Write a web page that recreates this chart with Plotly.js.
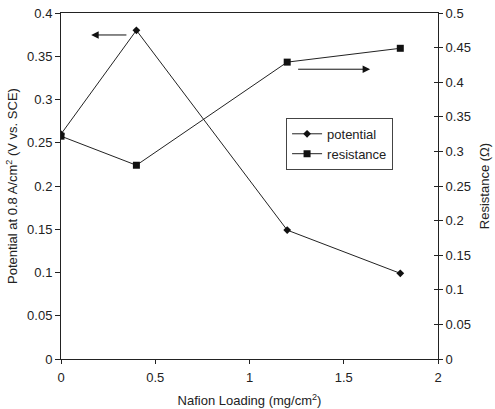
<!DOCTYPE html>
<html><head><meta charset="utf-8">
<script src="https://cdn.plot.ly/plotly-3.0.1.min.js"></script>
<style>body{margin:0;background:#fff}#c{width:495px;height:409px}</style>
</head><body><div id="c"></div>
<script>
const loading = [0, 0.4, 1.2, 1.8];
const potential = [0.26, 0.38, 0.149, 0.099];
const resistance = [0.322, 0.28, 0.429, 0.449];
const leftTicks = [0, 0.05, 0.1, 0.15, 0.2, 0.25, 0.3, 0.35, 0.4];
const rightTicks = [0, 0.05, 0.1, 0.15, 0.2, 0.25, 0.3, 0.35, 0.4, 0.45, 0.5];
const xTicks = [0, 0.5, 1, 1.5, 2];

const font = {family: 'Liberation Sans, Arial, sans-serif', size: 13, color: '#222'};
const data = [
  {x: loading, y: potential, name: 'potential', mode: 'lines+markers',
   line: {color: '#222', width: 1}, marker: {symbol: 'diamond', size: 6, color: '#111'}},
  {x: loading, y: resistance, name: 'resistance', mode: 'lines+markers', yaxis: 'y2',
   line: {color: '#222', width: 1}, marker: {symbol: 'square', size: 7, color: '#111'}},
  {x: [1], y: [-1], yaxis: 'y3', showlegend: false, hoverinfo: 'skip', mode: 'markers', marker: {opacity: 0}}
];
const layout = {
  width: 495, height: 409,
  margin: {l: 61, r: 57, t: 13, b: 50},
  paper_bgcolor: '#fff', plot_bgcolor: '#fff',
  font: font,
  showlegend: true,
  legend: {x: 0.597, y: 0.697, xanchor: 'left', yanchor: 'top', bordercolor: '#444', borderwidth: 1,
           font: {family: font.family, size: 13, color: '#222'}, bgcolor: '#fff', tracegroupgap: 0},
  xaxis: {range: [0, 2], tickvals: xTicks, ticktext: xTicks.map(String), showgrid: false, zeroline: false,
          showline: true, linecolor: '#222', linewidth: 1, mirror: true, ticks: 'outside', ticklen: 4, tickcolor: '#222',
          ticklabelstandoff: 2,
          title: {text: 'Nafion Loading (mg/cm<sup>2</sup>)', font: {size: 13}, standoff: 12}},
  yaxis: {range: [0, 0.4], tickvals: leftTicks, ticktext: leftTicks.map(String), showgrid: false, zeroline: false,
          showline: true, linecolor: '#222', linewidth: 1, ticks: 'outside', ticklen: 5, tickcolor: '#222',
          title: {text: 'Potential at 0.8 A/cm<sup>2</sup> (V vs. SCE)', font: {size: 13}, standoff: 6}},
  yaxis2: {range: [0, 0.5], tickvals: rightTicks, ticktext: rightTicks.map(String), overlaying: 'y', side: 'right',
           showgrid: false, zeroline: false, showline: true, linecolor: '#222', linewidth: 1,
           ticks: 'outside', ticklen: 4, tickcolor: '#222',
           title: {text: 'Resistance (Ω)', font: {size: 13}, standoff: 9}},
  yaxis3: {range: [0, 0.5], tickvals: rightTicks, showticklabels: false, overlaying: 'y', side: 'right',
           showgrid: false, zeroline: false, showline: false, ticks: 'inside', ticklen: 4, tickcolor: '#222'},
  annotations: [
    {x: 0.16, y: 0.3746, ax: 0.355, ay: 0.3746, xref: 'x', yref: 'y', axref: 'x', ayref: 'y',
     showarrow: true, arrowhead: 2, arrowsize: 1.5, arrowwidth: 1, arrowcolor: '#111', text: ''},
    {x: 1.64, y: 0.335, ax: 1.25, ay: 0.335, xref: 'x', yref: 'y', axref: 'x', ayref: 'y',
     showarrow: true, arrowhead: 2, arrowsize: 1.5, arrowwidth: 1, arrowcolor: '#111', text: ''}
  ]
};
Plotly.newPlot('c', data, layout, {displayModeBar: false, staticPlot: true});
</script></body></html>
